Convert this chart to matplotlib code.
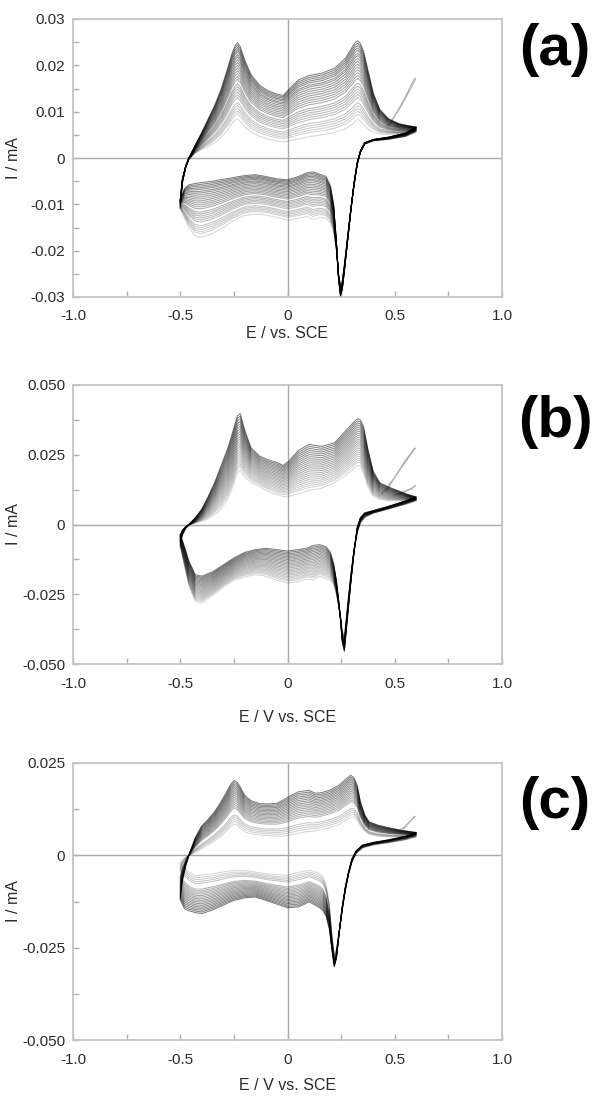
import numpy as np
import matplotlib
matplotlib.use('Agg')
import matplotlib.pyplot as plt
from matplotlib.ticker import FixedLocator, FixedFormatter

plt.rcParams['font.family'] = ['Liberation Sans', 'DejaVu Sans']

# potential grids, V vs SCE (forward sweep -0.5 -> 0.6, back sweep 0.6 -> -0.5)
E_up_ab = [-0.50, -0.49, -0.475, -0.46, -0.43, -0.40, -0.37, -0.34, -0.31, -0.28, -0.26, -0.245,
           -0.233, -0.22, -0.20, -0.17, -0.13, -0.09, -0.05, -0.02, 0.01, 0.05, 0.10, 0.16, 0.22,
           0.27, 0.30, 0.315, 0.328, 0.34, 0.355, 0.375, 0.40, 0.43, 0.47, 0.52, 0.56, 0.60]
E_down_ab = [0.60, 0.55, 0.47, 0.40, 0.36, 0.34, 0.325, 0.31, 0.295, 0.28, 0.265, 0.255, 0.247,
             0.238, 0.228, 0.215, 0.20, 0.18, 0.15, 0.12, 0.09, 0.05, 0.0, -0.05, -0.10, -0.15,
             -0.20, -0.25, -0.30, -0.35, -0.40, -0.43, -0.46, -0.48, -0.50]
E_up_c = [-0.50, -0.49, -0.475, -0.46, -0.43, -0.40, -0.37, -0.34, -0.31, -0.285, -0.265, -0.249,
          -0.235, -0.22, -0.20, -0.17, -0.13, -0.09, -0.05, -0.02, 0.01, 0.05, 0.10, 0.13, 0.16,
          0.20, 0.24, 0.27, 0.295, 0.31, 0.325, 0.34, 0.36, 0.38, 0.42, 0.47, 0.53, 0.60]
E_down_c = [0.60, 0.55, 0.47, 0.40, 0.35, 0.32, 0.30, 0.285, 0.27, 0.255, 0.24, 0.228, 0.218,
            0.208, 0.195, 0.18, 0.165, 0.15, 0.12, 0.10, 0.08, 0.05, 0.0, -0.05, -0.10, -0.15,
            -0.20, -0.25, -0.30, -0.35, -0.40, -0.43, -0.46, -0.48, -0.50]

# (a) I / mA, darkest cycle and lightest cycle
a_up_dark = [-0.009, -0.0045, -0.0018, 0.0, 0.0028, 0.0055, 0.0084, 0.0113, 0.0148, 0.0192, 0.0224,
             0.0242, 0.0249, 0.0240, 0.0212, 0.0180, 0.0157, 0.0145, 0.0138, 0.0135, 0.0150, 0.0168,
             0.0178, 0.0183, 0.0194, 0.0215, 0.0238, 0.0249, 0.0253, 0.0247, 0.0230, 0.0190, 0.0140,
             0.0105, 0.0085, 0.0074, 0.0070, 0.0067]
a_up_light = [-0.011, -0.0055, -0.0022, -0.0003, 0.0010, 0.0018, 0.0025, 0.0033, 0.0044, 0.0060,
              0.0073, 0.0081, 0.0084, 0.0079, 0.0068, 0.0056, 0.0047, 0.0041, 0.0037, 0.0035, 0.0037,
              0.0041, 0.0046, 0.0050, 0.0055, 0.0063, 0.0072, 0.0079, 0.0083, 0.0080, 0.0072, 0.0063,
              0.0056, 0.0052, 0.0051, 0.0052, 0.0054, 0.0056]
a_down_dark = [0.0067, 0.0054, 0.0045, 0.0040, 0.0033, 0.0015, -0.0010, -0.0055, -0.0115, -0.0180,
               -0.0245, -0.0285, -0.0298, -0.0260, -0.0180, -0.0100, -0.0060, -0.0040, -0.0035,
               -0.0030, -0.0032, -0.0040, -0.0047, -0.0045, -0.0040, -0.0036, -0.0038, -0.0042,
               -0.0046, -0.0050, -0.0053, -0.0055, -0.0058, -0.0066, -0.009]
a_down_light = [0.0056, 0.0046, 0.0040, 0.0037, 0.0030, 0.0012, -0.0015, -0.0060, -0.0110, -0.0170,
                -0.0230, -0.0265, -0.0272, -0.0250, -0.0200, -0.0160, -0.0140, -0.0130, -0.0128,
                -0.0133, -0.0126, -0.0130, -0.0134, -0.0128, -0.0123, -0.0121, -0.0124, -0.0135,
                -0.0150, -0.0163, -0.0171, -0.0168, -0.0150, -0.0130, -0.011]
# first anodic peak of every cycle
a_peaks = [0.0249, 0.0244, 0.0239, 0.0234, 0.0229, 0.0223, 0.0218, 0.0212, 0.0206, 0.0200, 0.0194,
           0.0188, 0.0182, 0.0176, 0.0170, 0.0160, 0.0154, 0.0148, 0.0142, 0.0136, 0.0130, 0.0119,
           0.0113, 0.0107, 0.0101, 0.0095, 0.0084]
# first scan going past the vertex
a_first_E = [0.47, 0.53, 0.575, 0.592, 0.598, 0.590, 0.545, 0.48]
a_first_I = [0.0070, 0.0112, 0.0150, 0.0166, 0.0172, 0.0170, 0.0128, 0.0074]

# (b)
b_up_dark = [-0.0035, -0.0020, -0.0008, 0.0, 0.0024, 0.0055, 0.0100, 0.0150, 0.0210, 0.0270, 0.0320,
             0.0360, 0.0390, 0.0397, 0.0340, 0.0275, 0.0245, 0.0232, 0.0222, 0.0212, 0.0230, 0.0265,
             0.0287, 0.0280, 0.0293, 0.0335, 0.0360, 0.0372, 0.0379, 0.0375, 0.0350, 0.0270, 0.0190,
             0.0150, 0.0135, 0.0120, 0.0108, 0.0099]
b_up_light = [-0.0080, -0.0040, -0.0015, -0.0002, 0.0005, 0.0012, 0.0020, 0.0035, 0.0055, 0.0090,
              0.0125, 0.0160, 0.0185, 0.0195, 0.0170, 0.0150, 0.0135, 0.0118, 0.0108, 0.0100, 0.0102,
              0.0110, 0.0122, 0.0130, 0.0150, 0.0175, 0.0195, 0.0205, 0.0212, 0.0210, 0.0180, 0.0135,
              0.0100, 0.0090, 0.0085, 0.0085, 0.0085, 0.0085]
b_down_dark = [0.0099, 0.0085, 0.0065, 0.0050, 0.0042, 0.0025, -0.0010, -0.0100, -0.0210, -0.0330,
               -0.0455, -0.0420, -0.0340, -0.0270, -0.0200, -0.0140, -0.0100, -0.0080, -0.0072,
               -0.0075, -0.0085, -0.0090, -0.0095, -0.0090, -0.0085, -0.0090, -0.0100, -0.0120,
               -0.0145, -0.0170, -0.0185, -0.0180, -0.0130, -0.0080, -0.0035]
b_down_light = [0.0085, 0.0072, 0.0055, 0.0040, 0.0025, 0.0005, -0.0030, -0.0090, -0.0180, -0.0290,
                -0.0400, -0.0380, -0.0330, -0.0290, -0.0250, -0.0215, -0.0200, -0.0195, -0.0185,
                -0.0200, -0.0195, -0.0205, -0.0210, -0.0200, -0.0185, -0.0180, -0.0188, -0.0200,
                -0.0225, -0.0255, -0.0282, -0.0275, -0.0220, -0.0150, -0.0080]
b_peaks = [0.0397, 0.0388, 0.0379, 0.0370, 0.0361, 0.0352, 0.0343, 0.0334, 0.0325, 0.0316, 0.0307,
           0.0298, 0.0289, 0.0280, 0.0271, 0.0262, 0.0253, 0.0244, 0.0235, 0.0226, 0.0217, 0.0208,
           0.0195]
b_first_E = [0.44, 0.50, 0.56, 0.585, 0.597, 0.590, 0.545, 0.46]
b_first_I = [0.0110, 0.0170, 0.0235, 0.0262, 0.0274, 0.0272, 0.0225, 0.0118]
b_second_E = [0.50, 0.55, 0.585, 0.597, 0.58, 0.52]
b_second_I = [0.0105, 0.0120, 0.0133, 0.0140, 0.0128, 0.0108]

# (c)
c_up_dark = [-0.0120, -0.0070, -0.0030, 0.0, 0.0048, 0.0080, 0.0097, 0.0118, 0.0145, 0.0170, 0.0192,
             0.0203, 0.0198, 0.0185, 0.0163, 0.0148, 0.0140, 0.0139, 0.0141, 0.0150, 0.0160, 0.0172,
             0.0176, 0.0168, 0.0170, 0.0177, 0.0190, 0.0205, 0.0217, 0.0210, 0.0190, 0.0145, 0.0110,
             0.0091, 0.0082, 0.0075, 0.0068, 0.0062]
c_up_light = [-0.0020, -0.0012, -0.0005, 0.0, 0.0008, 0.0018, 0.0028, 0.0039, 0.0052, 0.0065, 0.0077,
              0.0085, 0.0082, 0.0073, 0.0064, 0.0058, 0.0055, 0.0053, 0.0052, 0.0052, 0.0055, 0.0060,
              0.0065, 0.0066, 0.0070, 0.0076, 0.0083, 0.0094, 0.0103, 0.0104, 0.0095, 0.0080, 0.0065,
              0.0057, 0.0052, 0.0050, 0.0050, 0.0050]
c_down_dark = [0.0062, 0.0052, 0.0042, 0.0035, 0.0028, 0.0012, -0.0010, -0.0045, -0.0085, -0.0140,
               -0.0215, -0.0280, -0.0302, -0.0260, -0.0200, -0.0165, -0.0150, -0.0142, -0.0132,
               -0.0126, -0.0132, -0.0140, -0.0142, -0.0132, -0.0122, -0.0113, -0.0115, -0.0122,
               -0.0135, -0.0148, -0.0158, -0.0155, -0.0150, -0.0145, -0.0120]
c_down_light = [0.0050, 0.0042, 0.0034, 0.0028, 0.0020, 0.0005, -0.0020, -0.0050, -0.0095, -0.0150,
                -0.0210, -0.0255, -0.0270, -0.0220, -0.0130, -0.0080, -0.0058, -0.0050, -0.0043,
                -0.0040, -0.0043, -0.0046, -0.0054, -0.0052, -0.0050, -0.0045, -0.0041, -0.0041,
                -0.0045, -0.0050, -0.0053, -0.0055, -0.0045, -0.0030, -0.0020]
c_peaks = [0.0203, 0.0198, 0.0193, 0.0188, 0.0183, 0.0178, 0.0173, 0.0168, 0.0163, 0.0158, 0.0153,
           0.0148, 0.0143, 0.0138, 0.0133, 0.0128, 0.0110, 0.0104, 0.0098, 0.0092, 0.0085]
c_first_E = [0.52, 0.56, 0.585, 0.595, 0.58, 0.54]
c_first_I = [0.0065, 0.0085, 0.0100, 0.0106, 0.0098, 0.0070]

panels = [
    dict(label='(a)', xlabel='E / vs. SCE', up=(E_up_ab, a_up_dark, a_up_light),
         down=(E_down_ab, a_down_dark, a_down_light), peaks=a_peaks,
         extra=[(a_first_E, a_first_I)], ylim=(-0.03, 0.03),
         yt=[-0.03, -0.02, -0.01, 0, 0.01, 0.02, 0.03],
         ytl=['-0.03', '-0.02', '-0.01', '0', '0.01', '0.02', '0.03'],
         ym=[-0.025, -0.015, -0.005, 0.005, 0.015, 0.025],
         box=(73, 19, 502, 297), lab_y=50, xl_y=333),
    dict(label='(b)', xlabel='E / V vs. SCE', up=(E_up_ab, b_up_dark, b_up_light),
         down=(E_down_ab, b_down_dark, b_down_light), peaks=b_peaks,
         extra=[(b_first_E, b_first_I), (b_second_E, b_second_I)], ylim=(-0.05, 0.05),
         yt=[-0.05, -0.025, 0, 0.025, 0.05],
         ytl=['-0.050', '-0.025', '0', '0.025', '0.050'],
         ym=[-0.0375, -0.0125, 0.0125, 0.0375],
         box=(73, 385, 502, 664), lab_y=422, xl_y=718),
    dict(label='(c)', xlabel='E / V vs. SCE', up=(E_up_c, c_up_dark, c_up_light),
         down=(E_down_c, c_down_dark, c_down_light), peaks=c_peaks,
         extra=[(c_first_E, c_first_I)], ylim=(-0.05, 0.025),
         yt=[-0.05, -0.025, 0, 0.025],
         ytl=['-0.050', '-0.025', '0', '0.025'],
         ym=[-0.0375, -0.0125, 0.0125],
         box=(73, 763, 502, 1040), lab_y=803, xl_y=1086),
]

W, H = 592, 1102
fig = plt.figure(figsize=(W / 100, H / 100), dpi=100)
tick_col = '#2a2a2a'
spine_col = '#c4c4c4'

for p in panels:
    x0, y0, x1, y1 = p['box']
    ax = fig.add_axes([x0 / W, 1 - y1 / H, (x1 - x0) / W, (y1 - y0) / H])
    ax.set_xlim(-1.0, 1.0)
    ax.set_ylim(*p['ylim'])
    ax.axhline(0, color='#a8a8a8', lw=1.0, zorder=1)
    ax.axvline(0, color='#a8a8a8', lw=1.0, zorder=1)

    Eu, du, lu = [np.array(v) for v in p['up']]
    Ed, dd, ld = [np.array(v) for v in p['down']]
    E = np.concatenate([Eu, Ed[1:]])
    dark = np.concatenate([du, dd[1:]])
    light = np.concatenate([lu, ld[1:]])
    pk = np.array(p['peaks'])
    pmin, pmax = pk.min(), pk.max()

    for ex, ey in p['extra']:
        ax.plot(ex, ey, color='#b4b4b4', lw=0.8, zorder=2)

    # each cycle drawn half-transparent so the shared parts of the loops build up to black
    for v in sorted(pk):
        w = (v - pmin) / (pmax - pmin)
        ax.plot(E, light + w * (dark - light), color='black', alpha=0.16 + 0.34 * w,
                lw=0.75, zorder=3)

    ax.xaxis.set_major_locator(FixedLocator([-1.0, -0.5, 0, 0.5, 1.0]))
    ax.xaxis.set_major_formatter(FixedFormatter(['-1.0', '-0.5', '0', '0.5', '1.0']))
    ax.xaxis.set_minor_locator(FixedLocator([-0.75, -0.25, 0.25, 0.75]))
    ax.yaxis.set_major_locator(FixedLocator(p['yt']))
    ax.yaxis.set_major_formatter(FixedFormatter(p['ytl']))
    ax.yaxis.set_minor_locator(FixedLocator(p['ym']))
    ax.tick_params(which='both', direction='in', length=4, width=1, color='#b0b0b0',
                   labelsize=11, labelcolor=tick_col)
    ax.tick_params(axis='x', which='major', pad=9)
    ax.tick_params(axis='y', which='major', pad=5.5)
    for s in ax.spines.values():
        s.set_color(spine_col)
        s.set_linewidth(1.3)

    ax.set_ylabel('I / mA', fontsize=11.5, color=tick_col)
    ax.yaxis.set_label_coords((21 - x0) / (x1 - x0), 0.5)
    fig.text((x0 + x1) / 2 / W, 1 - p['xl_y'] / H, p['xlabel'], fontsize=11.5,
             color=tick_col, ha='center', va='center')
    fig.text(555 / W, 1 - p['lab_y'] / H, p['label'], fontsize=42, fontweight='bold',
             ha='center', va='center', color='black')

fig.savefig('out.png', dpi=100)
